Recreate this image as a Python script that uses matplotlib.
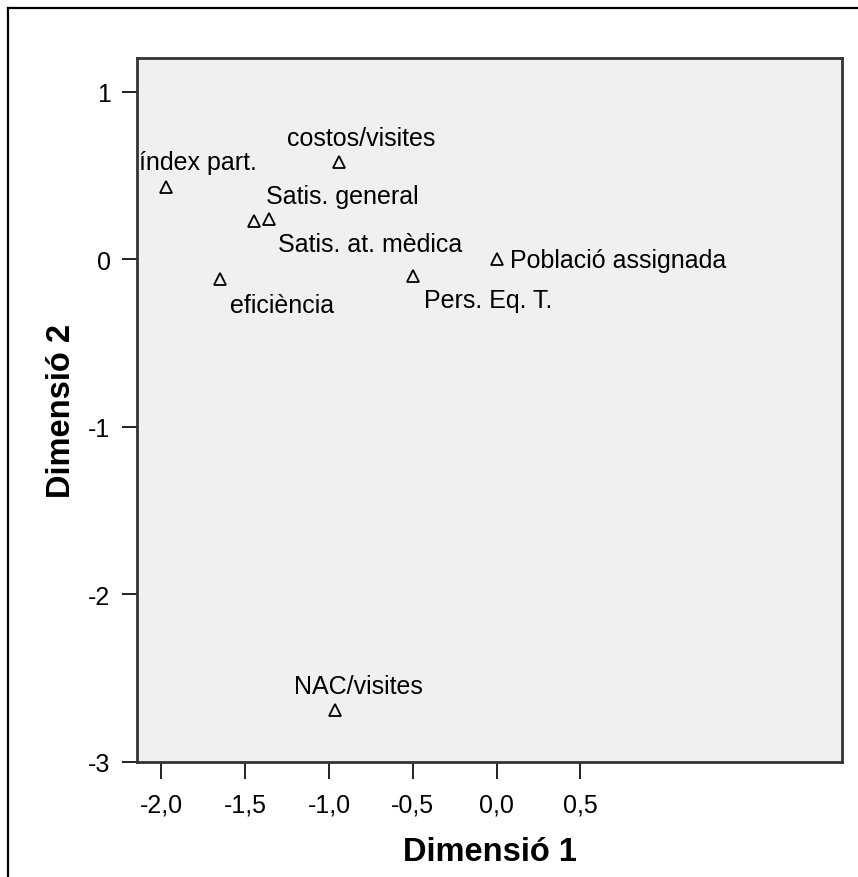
import matplotlib
matplotlib.use("Agg")
import matplotlib.pyplot as plt
from matplotlib.lines import Line2D

# Object points in the two-dimensional solution
labels = ["índex part.", "costos/visites", "Satis. general", "Satis. at. mèdica",
          "eficiència", "Pers. Eq. T.", "Població assignada", "NAC/visites"]
dim1 = [-1.972, -0.938, -1.445, -1.356, -1.648, -0.496, 0.005, -0.965]
dim2 = [0.43, 0.58, 0.23, 0.24, -0.12, -0.10, 0.00, -2.69]

x_ticks = [-2.0, -1.5, -1.0, -0.5, 0.0, 0.5]
x_tick_labels = ["-2,0", "-1,5", "-1,0", "-0,5", "0,0", "0,5"]
y_ticks = [1, 0, -1, -2, -3]
y_tick_labels = ["1", "0", "-1", "-2", "-3"]

# label placement around each marker: (dx px, dy px upward, horizontal alignment)
label_place = [(-27, 18, "left"), (22, 17, "center"), (12, 18, "left"), (9, -32, "left"),
               (10, -33, "left"), (11, -31, "left"), (13, -8, "left"), (24, 17, "center")]

W, H, DPI = 858, 878, 100
fig = plt.figure(figsize=(W / DPI, H / DPI), dpi=DPI)
fig.patch.set_facecolor("white")

font = "Liberation Sans"
plt.rcParams["font.family"] = [font, "DejaVu Sans"]

# outer frame (top and left edges)
fig.add_artist(Line2D([8 / W, 1.0], [1 - 9 / H, 1 - 9 / H], color="black", lw=1.6,
                      transform=fig.transFigure))
fig.add_artist(Line2D([8 / W, 8 / W], [1 - 9 / H, 0.0], color="black", lw=1.6,
                      transform=fig.transFigure))

left, right, top, bottom = 137, 842, 59, 763
ax = fig.add_axes([left / W, 1 - bottom / H, (right - left) / W, (bottom - top) / H])
ax.set_facecolor("#F0F0F0")
ax.set_xlim(-2.145, 2.06)
ax.set_ylim(-3.0, 1.2)

ax.plot(dim1, dim2, linestyle="none", marker="^", markersize=8,
        markerfacecolor="none", markeredgecolor="black", markeredgewidth=1.3)

for lab, x, y, (dx, dy, ha) in zip(labels, dim1, dim2, label_place):
    ax.annotate(lab, (x, y), xytext=(dx * 0.72, dy * 0.72), textcoords="offset points",
                ha=ha, va="baseline", fontsize=18, family=font, color="black",
                annotation_clip=False, clip_on=True)

for s in ax.spines.values():
    s.set_color("#333333")
    s.set_linewidth(2.0)

ax.set_xticks(x_ticks)
ax.set_xticklabels(x_tick_labels, fontsize=18, family=font)
ax.set_yticks(y_ticks)
ax.set_yticklabels(y_tick_labels, fontsize=18, family=font)
ax.tick_params(axis="x", direction="out", length=12, width=1.4, pad=10, color="#222222")
ax.tick_params(axis="y", direction="out", length=11, width=1.4, pad=8, color="#222222")

ax.set_xlabel("Dimensió 1", fontsize=23.5, fontweight="bold", family=font, labelpad=14)
ax.set_ylabel("Dimensió 2", fontsize=23.5, fontweight="bold", family=font, labelpad=8)

fig.savefig("out.png", dpi=DPI)
